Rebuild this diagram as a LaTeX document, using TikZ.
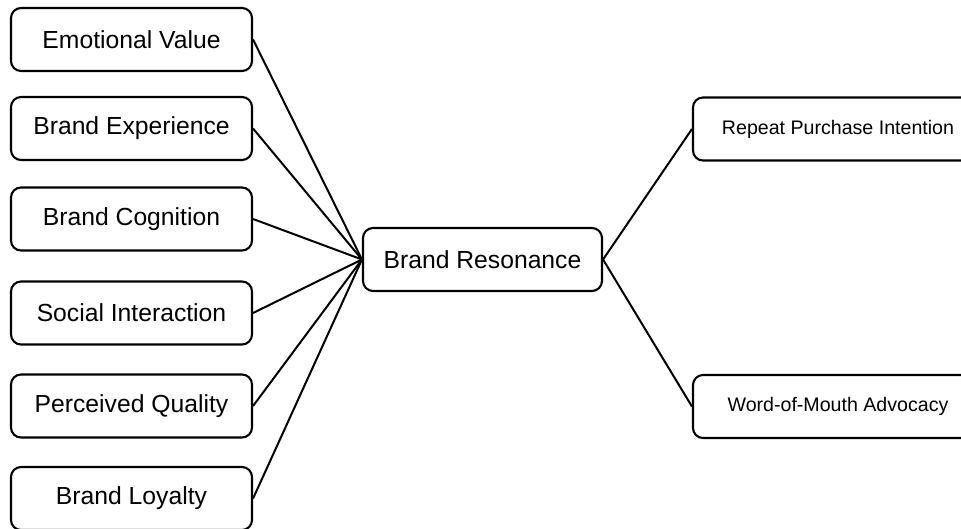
\documentclass[tikz,border=0pt]{standalone}
\usepackage{fontspec}
\setmainfont{Liberation Sans}
\begin{document}
\begin{tikzpicture}[x=1pt,y=-1pt,
  box/.style={draw=black, line width=2.1pt, rounded corners=10pt, fill=white,
    minimum width=241pt, minimum height=63pt, inner sep=0pt,
    font=\fontsize{24.7}{29}\selectfont},
  rbox/.style={draw=black, line width=2.1pt, rounded corners=10pt, fill=white,
    minimum width=290pt, minimum height=63pt, inner sep=0pt,
    font=\fontsize{19.6}{23}\selectfont},
  link/.style={draw=black, line width=2pt}]
\clip (0,0) rectangle (961,529);
\fill[white] (0,0) rectangle (961,529);
\node[box] (ev) at (131.5,39.5) {Emotional Value};
\node[box] (be) at (131.5,128.5) {Brand Experience};
\node[box] (bc) at (131.5,219) {Brand Cognition};
\node[box] (si) at (131.5,313) {Social Interaction};
\node[box] (pq) at (131.5,406) {Perceived Quality};
\node[box] (bl) at (131.5,498.5) {Brand Loyalty};
\node[box, minimum width=239pt] (br) at (482.5,259.5) {Brand Resonance};
\node[rbox] (rp) at (838,129) {Repeat Purchase Intention};
\node[rbox] (wm) at (838,406.5) {Word-of-Mouth Advocacy};
\foreach \n in {ev,be,bc,si,pq,bl}
  \draw[link] (\n.east) -- (br.west);
\draw[link] (br.east) -- (rp.west);
\draw[link] (br.east) -- (wm.west);
\end{tikzpicture}
\end{document}
